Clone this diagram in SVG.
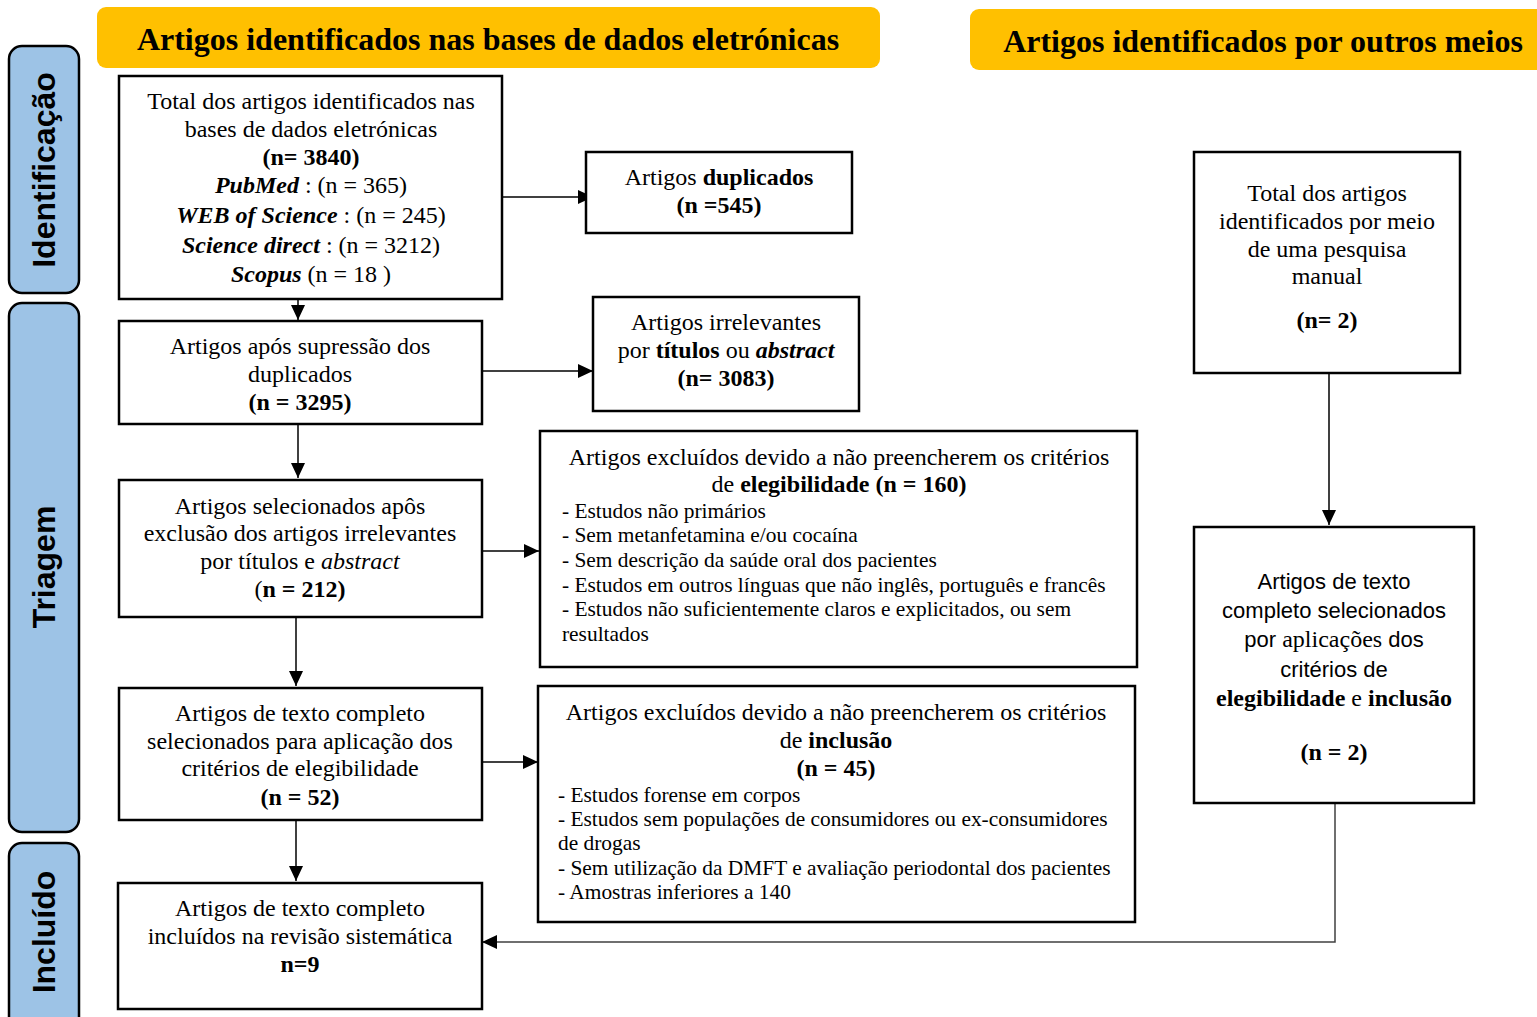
<svg xmlns="http://www.w3.org/2000/svg" width="1537" height="1017" viewBox="0 0 1537 1017">
<style>
.hdr{fill:#FFC000;}
.hdrt{font-family:"Liberation Serif",serif;font-weight:bold;font-size:32px;fill:#000;text-anchor:middle;}
.side{fill:#9DC3E6;stroke:#000;stroke-width:2.5;}
.sidet{font-family:"Liberation Sans",Arial,sans-serif;font-weight:bold;font-size:32px;fill:#000;text-anchor:middle;}
.box{fill:#fff;stroke:#000;stroke-width:2.5;}
.t{font-family:"Liberation Serif",serif;font-size:24px;fill:#000;text-anchor:middle;}
.l{font-family:"Liberation Serif",serif;font-size:21.4px;fill:#000;}
.s{font-family:"Liberation Sans",Arial,sans-serif;font-size:22px;}
.b{font-weight:bold;}
.i{font-style:italic;}
.conn{fill:none;stroke:#000;stroke-width:1.5;}
.conn2{fill:none;stroke:#404040;stroke-width:1.5;}
</style>
<defs>
<marker id="ah" markerUnits="userSpaceOnUse" markerWidth="16" markerHeight="14" refX="15" refY="7" orient="auto">
<path d="M0,0 L15,7 L0,14 Z" fill="#000"/>
</marker>
</defs>

<g id="header-bases">
<rect class="hdr" x="97" y="7" width="783" height="61" rx="9"/>
<text class="hdrt" x="488" y="50">Artigos identificados nas bases de dados eletrónicas</text>
</g>
<g id="header-outros">
<rect class="hdr" x="970" y="9" width="580" height="61" rx="9"/>
<text class="hdrt" x="1263" y="52">Artigos identificados por outros meios</text>
</g>

<g id="side-identificacao">
<rect class="side" x="9" y="46" width="70" height="247" rx="13"/>
<text class="sidet" transform="translate(55,170) rotate(-90)">Identificação</text>
</g>
<g id="side-triagem">
<rect class="side" x="9" y="303" width="70" height="529" rx="13"/>
<text class="sidet" transform="translate(55,567) rotate(-90)">Triagem</text>
</g>
<g id="side-incluido">
<rect class="side" x="9" y="843" width="70" height="190" rx="13"/>
<text class="sidet" transform="translate(55,932) rotate(-90)">Incluído</text>
</g>

<g id="connectors">
<line class="conn" x1="298" y1="299" x2="298" y2="320" marker-end="url(#ah)"/>
<line class="conn" x1="502" y1="197" x2="593" y2="197" marker-end="url(#ah)"/>
<line class="conn" x1="482" y1="371" x2="593" y2="371" marker-end="url(#ah)"/>
<line class="conn" x1="298" y1="424" x2="298" y2="478" marker-end="url(#ah)"/>
<line class="conn" x1="482" y1="551" x2="539" y2="551" marker-end="url(#ah)"/>
<line class="conn" x1="296" y1="617" x2="296" y2="686" marker-end="url(#ah)"/>
<line class="conn" x1="482" y1="762" x2="538" y2="762" marker-end="url(#ah)"/>
<line class="conn" x1="296" y1="820" x2="296" y2="881" marker-end="url(#ah)"/>
<line class="conn" x1="1329" y1="373" x2="1329" y2="525" marker-end="url(#ah)"/>
<polyline class="conn2" points="1335,803 1335,942 482,942" marker-end="url(#ah)"/>
</g>

<g id="node-total">
<rect class="box" x="119" y="76" width="383" height="223"/>
<text class="t" x="311" y="109">Total dos artigos identificados nas</text>
<text class="t" x="311" y="137">bases de dados eletrónicas</text>
<text class="t b" x="311" y="165">(n= 3840)</text>
<text class="t" x="311" y="193"><tspan class="b i">PubMed</tspan> : (n = 365)</text>
<text class="t" x="311" y="223"><tspan class="b i">WEB of Science</tspan> : (n = 245)</text>
<text class="t" x="311" y="253"><tspan class="b i">Science direct</tspan> : (n = 3212)</text>
<text class="t" x="311" y="282"><tspan class="b i">Scopus</tspan> (n = 18 )</text>
</g>

<g id="node-duplicados">
<rect class="box" x="586" y="152" width="266" height="81"/>
<text class="t" x="719" y="185">Artigos <tspan class="b">duplicados</tspan></text>
<text class="t b" x="719" y="213">(n =545)</text>
</g>

<g id="node-supressao">
<rect class="box" x="119" y="321" width="363" height="103"/>
<text class="t" x="300" y="354">Artigos após supressão dos</text>
<text class="t" x="300" y="382">duplicados</text>
<text class="t b" x="300" y="410">(n = 3295)</text>
</g>

<g id="node-irrelevantes">
<rect class="box" x="593" y="297" width="266" height="114"/>
<text class="t" x="726" y="330">Artigos irrelevantes</text>
<text class="t" x="726" y="358">por <tspan class="b">títulos</tspan> ou <tspan class="b i">abstract</tspan></text>
<text class="t b" x="726" y="386">(n= 3083)</text>
</g>

<g id="node-selecionados">
<rect class="box" x="119" y="480" width="363" height="137"/>
<text class="t" x="300" y="514">Artigos selecionados apôs</text>
<text class="t" x="300" y="541">exclusão dos artigos irrelevantes</text>
<text class="t" x="300" y="569">por títulos e <tspan class="i">abstract</tspan></text>
<text class="t" x="300" y="597">(<tspan class="b">n = 212)</tspan></text>
</g>

<g id="node-excl-elegibilidade">
<rect class="box" x="540" y="431" width="597" height="236"/>
<text class="t" x="839" y="465">Artigos excluídos devido a não preencherem os critérios</text>
<text class="t" x="839" y="492">de <tspan class="b">elegibilidade (n = 160)</tspan></text>
<text class="l" x="562" y="518">- Estudos não primários</text>
<text class="l" x="562" y="542">- Sem metanfetamina e/ou cocaína</text>
<text class="l" x="562" y="567">- Sem descrição da saúde oral dos pacientes</text>
<text class="l" x="562" y="592">- Estudos em outros línguas que não inglês, português e francês</text>
<text class="l" x="562" y="616">- Estudos não suficientemente claros e explicitados, ou sem</text>
<text class="l" x="562" y="641">resultados</text>
</g>

<g id="node-elegibilidade">
<rect class="box" x="119" y="688" width="363" height="132"/>
<text class="t" x="300" y="721">Artigos de texto completo</text>
<text class="t" x="300" y="749">selecionados para aplicação dos</text>
<text class="t" x="300" y="776">critérios de elegibilidade</text>
<text class="t b" x="300" y="805">(n = 52)</text>
</g>

<g id="node-excl-inclusao">
<rect class="box" x="538" y="686" width="597" height="236"/>
<text class="t" x="836" y="720">Artigos excluídos devido a não preencherem os critérios</text>
<text class="t" x="836" y="748">de <tspan class="b">inclusão</tspan></text>
<text class="t b" x="836" y="776">(n = 45)</text>
<text class="l" x="558" y="802">- Estudos forense em corpos</text>
<text class="l" x="558" y="826">- Estudos sem populações de consumidores ou ex-consumidores</text>
<text class="l" x="558" y="850">de drogas</text>
<text class="l" x="558" y="875">- Sem utilização da DMFT e avaliação periodontal dos pacientes</text>
<text class="l" x="558" y="899">- Amostras inferiores a 140</text>
</g>

<g id="node-incluidos">
<rect class="box" x="118" y="883" width="364" height="126"/>
<text class="t" x="300" y="916">Artigos de texto completo</text>
<text class="t" x="300" y="944">incluídos na revisão sistemática</text>
<text class="t b" x="300" y="972">n=9</text>
</g>

<g id="node-manual">
<rect class="box" x="1194" y="152" width="266" height="221"/>
<text class="t" x="1327" y="201">Total dos artigos</text>
<text class="t" x="1327" y="229">identificados por meio</text>
<text class="t" x="1327" y="257">de uma pesquisa</text>
<text class="t" x="1327" y="284">manual</text>
<text class="t b" x="1327" y="328">(n= 2)</text>
</g>

<g id="node-selecionados-manual">
<rect class="box" x="1194" y="527" width="280" height="276"/>
<text class="t s" x="1334" y="589">Artigos de texto</text>
<text class="t s" x="1334" y="618">completo selecionados</text>
<text class="t" x="1334" y="647"><tspan class="s">por </tspan>aplicações<tspan class="s"> dos</tspan></text>
<text class="t s" x="1334" y="677">critérios de</text>
<text class="t" x="1334" y="706"><tspan class="b">elegibilidade</tspan> e <tspan class="b">inclusão</tspan></text>
<text class="t b" x="1334" y="760">(n = 2)</text>
</g>
</svg>
